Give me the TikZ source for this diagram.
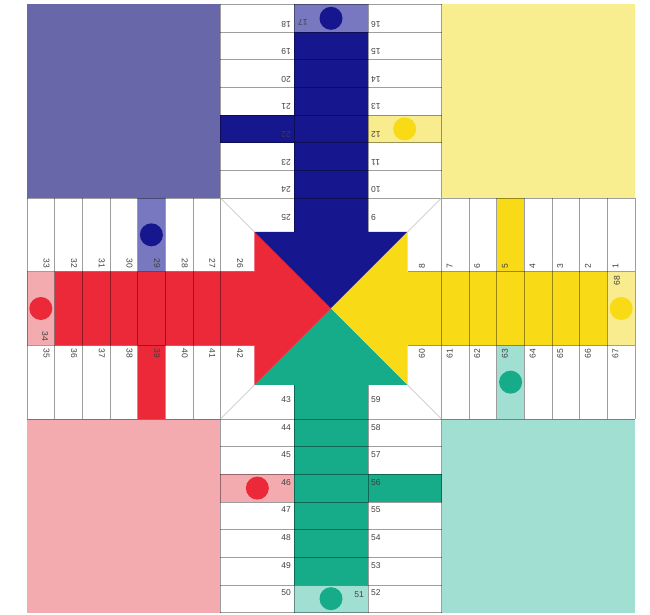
\documentclass[tikz,border=0pt]{standalone}
\usepackage{fontspec}
\setmainfont{Liberation Sans}
\definecolor{bluehome}{HTML}{6767A9}
\definecolor{bluedark}{HTML}{16168F}
\definecolor{bluelight}{HTML}{7878C0}
\definecolor{yellowhome}{HTML}{F8EE8F}
\definecolor{yellowdark}{HTML}{F8DB16}
\definecolor{yellowlight}{HTML}{F9EC8E}
\definecolor{redhome}{HTML}{F4ABB0}
\definecolor{reddark}{HTML}{EC2939}
\definecolor{redlight}{HTML}{F4ABB0}
\definecolor{tealhome}{HTML}{A2DFD3}
\definecolor{tealdark}{HTML}{16AB89}
\definecolor{teallight}{HTML}{A2DFD3}
\begin{document}
\begin{tikzpicture}[x=1pt,y=1pt,
  gridline/.style={draw=black,draw opacity=0.38,line width=0.6pt},
  diag/.style={draw=black!18,line width=0.7pt},
  numlabel/.style={font=\fontsize{8.5}{9}\selectfont,text=black!75,inner sep=0pt},
  piece/.style={circle,minimum size=23pt,inner sep=0pt}]
\useasboundingbox (-331,-306.5) rectangle (319,308.5);
\def\H{304}\def\W{110.5}\def\S{76.5}\def\M{36.833}\def\L{27.643}
% home squares
\fill[bluehome] (-\H,\W) rectangle (-\W,\H);
\fill[yellowhome] (\W,\W) rectangle (\H,\H);
\fill[redhome] (-\H,-\W) rectangle (-\W,-\H);
\fill[tealhome] (\W,-\W) rectangle (\H,-\H);
% coloured parts of the arms
\foreach \a/\dk/\lt/\nlc in {0/tealdark/teallight/redlight,1/reddark/redlight/bluelight,2/bluedark/bluelight/yellowlight,3/yellowdark/yellowlight/teallight}{
  \begin{scope}[rotate=-90*\a]
    \fill[\dk] (-\M,-\H+\L) -- (-\M,-\S) -- (-\S,-\S) -- (0,0) -- (\S,-\S) -- (\M,-\S) -- (\M,-\H+\L) -- cycle;
    \fill[\dk] (\M,-\H+4*\L) rectangle (\W,-\H+5*\L);
    \fill[\lt] (-\M,-\H) rectangle (\M,-\H+\L);
    \fill[\nlc] (-\W,-\H+4*\L) rectangle (-\M,-\H+5*\L);
  \end{scope}}
% grid lines
\foreach \a in {0,1,2,3}{
  \begin{scope}[rotate=-90*\a]
    \foreach \k in {0,...,7} \draw[gridline] (-\W,-\H+\k*\L) -- (\W,-\H+\k*\L);
    \draw[gridline] (-\W,-\H) -- (-\W,-\W);
    \draw[gridline] (\W,-\H) -- (\W,-\W);
    \draw[gridline] (-\M,-\H) -- (-\M,-\S);
    \draw[gridline] (\M,-\H) -- (\M,-\S);
    \draw[diag] (-\W,-\W) -- (-\S,-\S);
    \draw[diag] (\W,-\W) -- (\S,-\S);
  \end{scope}}
% pieces and numbers
\foreach \a/\dk/\nd in {0/tealdark/reddark,1/reddark/bluedark,2/bluedark/yellowdark,3/yellowdark/tealdark}{
  \begin{scope}[rotate=-90*\a,transform shape]
    \node[piece,fill=\dk] (start\a) at (0,-\H+0.5*\L) {};
    \node[piece,fill=\nd] (safe\a) at ({-(\W+\M)/2},-\H+4.5*\L) {};
    \pgfmathtruncatemacro\numS{mod(51-17*\a+136,68)}
    \ifnum\numS=0 \def\numS{68}\fi
    \node[numlabel,anchor=east] (lab\numS) at (33,-\H+18) {\numS};
    \foreach \j in {1,...,8}{
      \pgfmathtruncatemacro\numA{mod(51-\j-17*\a+136,68)}
      \pgfmathtruncatemacro\numB{mod(51+\j-17*\a+136,68)}
      \pgfmathsetmacro\ly{-\H+(\j-1)*\L+19.5}
      \node[numlabel,anchor=east] (lab\numA) at (-40,\ly) {\numA};
      \node[numlabel,anchor=west] (lab\numB) at (40,\ly) {\numB};
    }
  \end{scope}}
\end{tikzpicture}
\end{document}
